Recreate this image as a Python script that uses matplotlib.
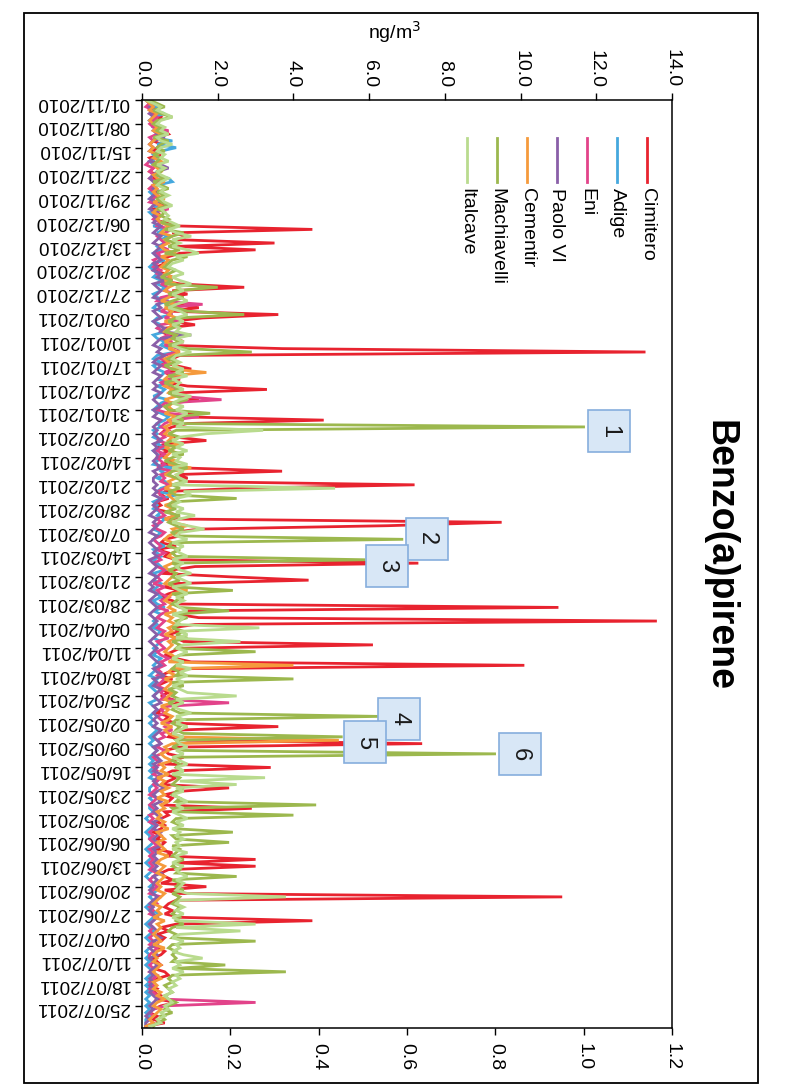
import matplotlib
matplotlib.use("Agg")
import matplotlib.pyplot as plt
from matplotlib.patches import Rectangle
import numpy as np

# ---------------------------------------------------------------------------
# Daily Benzo(a)pirene concentrations (ng/m3), 01/11/2010 -> 31/07/2011
# one row per week (7 days)
# ---------------------------------------------------------------------------
cimitero = [
    0.1, 0.3, 0.4, 0.2, 0.3, 0.5, 0.4,
    0.3, 0.5, 0.6, 0.7, 0.4, 0.3, 0.5,
    0.4, 0.3, 0.5, 0.2, 0.3, 0.4, 0.3,
    0.2, 0.4, 0.3, 0.5, 0.3, 0.2, 0.4,
    0.3, 0.5, 0.4, 0.6, 0.3, 0.4, 0.5,
    0.3, 0.6, 1.0, 4.5, 0.8, 1.2, 0.9,
    3.5, 0.9, 3.0, 1.0, 0.7, 0.5, 0.6,
    0.4, 0.3, 0.6, 0.8, 0.5, 1.0, 2.7,
    0.8, 1.2, 0.6, 0.5, 0.9, 1.5, 0.7,
    3.6, 1.6, 0.8, 1.4, 0.6, 0.5, 0.7,
    0.9, 1.1, 0.6, 3.7, 13.3, 1.0, 0.8,
    0.5, 0.9, 1.3, 0.6, 0.8, 1.0, 0.7,
    1.2, 3.3, 0.9, 1.0, 1.5, 0.8, 0.6,
    0.7, 1.4, 0.9, 4.8, 1.2, 0.8, 0.6,
    0.5, 0.9, 1.7, 0.6, 0.4, 0.7, 0.5,
    0.6, 0.8, 0.5, 1.0, 3.7, 0.9, 1.2,
    1.0, 7.2, 2.6, 0.6, 0.5, 0.7, 0.4,
    0.5, 0.3, 0.7, 0.9, 0.6, 9.5, 6.5,
    1.5, 0.8, 1.0, 0.6, 0.5, 0.9, 0.4,
    0.7, 0.6, 0.9, 7.3, 1.4, 0.8, 0.5,
    2.3, 4.4, 0.8, 0.6, 1.0, 0.7, 0.5,
    0.8, 1.0, 11.0, 1.2, 0.9, 1.5, 13.6,
    1.4, 0.8, 1.0, 0.7, 0.9, 1.1, 6.1,
    1.0, 0.8, 0.6, 0.9, 1.3, 10.1, 1.1,
    0.7, 0.5, 0.8, 0.6, 0.4, 0.5, 0.7,
    0.5, 0.8, 1.0, 0.6, 0.5, 0.4, 0.7,
    0.6, 0.9, 3.6, 1.0, 0.8, 0.7, 1.2,
    7.4, 1.0, 0.6, 0.7, 1.1, 0.8, 0.6,
    3.4, 0.8, 0.6, 0.9, 0.7, 0.5, 2.3,
    1.0, 0.6, 0.8, 0.7, 0.5, 2.9, 0.6,
    0.7, 0.5, 0.4, 0.6, 0.5, 0.3, 0.5,
    0.4, 0.6, 0.5, 0.4, 0.8, 0.6, 3.0,
    0.9, 3.0, 0.7, 0.5, 0.6, 0.8, 0.5,
    1.7, 0.6, 1.0, 11.1, 0.9, 0.7, 0.6,
    0.8, 0.6, 1.0, 4.5, 0.9, 0.5, 0.7,
    0.4, 0.6, 0.5, 0.3, 0.4, 0.6, 0.5,
    0.3, 0.4, 0.5, 0.3, 0.6, 0.7, 0.4,
    0.3, 0.2, 0.4, 0.3, 0.5, 0.4, 0.9,
    0.5, 0.3, 0.2, 0.4, 0.3, 0.6, 0.1,
]

adige = [
    0.1, 0.2, 0.4, 0.3, 0.6, 0.3, 0.2,
    0.4, 0.3, 0.5, 0.6, 0.3, 0.8, 0.4,
    0.9, 0.5, 0.3, 0.4, 0.2, 0.3, 0.5,
    0.4, 0.3, 0.7, 0.8, 0.4, 0.3, 0.2,
    0.3, 0.2, 0.4, 0.3, 0.5, 0.2, 0.3,
    0.4, 0.5, 0.3, 0.6, 0.4, 0.7, 0.5,
    0.6, 0.4, 0.5, 0.3, 0.4, 0.6, 0.3,
    0.2, 0.3, 0.4, 0.3, 0.5, 0.4, 0.6,
    0.5, 0.3, 0.4, 0.7, 0.4, 0.3, 0.5,
    0.8, 0.4, 0.3, 0.5, 0.4, 0.6, 0.3,
    0.4, 0.6, 0.5, 0.7, 0.9, 0.4, 0.3,
    0.5, 0.3, 0.4, 0.6, 0.5, 0.4, 0.7,
    0.4, 0.6, 0.5, 0.3, 0.7, 0.5, 0.4,
    0.3, 0.5, 0.7, 0.6, 0.4, 0.5, 0.3,
    0.4, 0.3, 0.5, 0.4, 0.6, 0.3, 0.4,
    0.5, 0.4, 0.3, 0.8, 0.5, 0.6, 0.4,
    0.6, 0.8, 0.5, 0.4, 0.9, 0.5, 0.3,
    0.4, 0.3, 0.5, 0.4, 0.6, 0.5, 0.4,
    0.3, 0.5, 0.4, 0.3, 0.4, 0.6, 0.3,
    0.4, 0.5, 0.3, 0.4, 0.5, 0.6, 0.3,
    0.4, 0.3, 0.5, 0.4, 0.3, 0.4, 0.5,
    0.3, 0.4, 0.6, 0.3, 0.5, 0.4, 0.3,
    0.4, 0.3, 0.5, 0.4, 0.3, 0.5, 0.4,
    0.3, 0.4, 0.3, 0.5, 0.4, 0.3, 0.4,
    0.3, 0.2, 0.4, 0.3, 0.2, 0.3, 0.4,
    0.3, 0.4, 0.2, 0.3, 0.4, 0.3, 0.2,
    0.3, 0.2, 0.3, 0.4, 0.3, 0.2, 0.3,
    0.2, 0.3, 0.4, 0.3, 0.2, 0.3, 0.2,
    0.3, 0.2, 0.3, 0.2, 0.4, 0.3, 0.2,
    0.2, 0.3, 0.2, 0.3, 0.2, 0.2, 0.3,
    0.2, 0.1, 0.2, 0.3, 0.2, 0.1, 0.2,
    0.2, 0.3, 0.2, 0.1, 0.2, 0.3, 0.2,
    0.1, 0.2, 0.3, 0.2, 0.1, 0.2, 0.3,
    0.2, 0.4, 0.3, 0.2, 0.3, 0.2, 0.1,
    0.2, 0.5, 0.3, 0.2, 0.1, 0.2, 0.3,
    0.2, 0.1, 0.2, 0.3, 0.2, 0.1, 0.2,
    0.1, 0.2, 0.1, 0.2, 0.3, 0.2, 0.1,
    0.2, 0.1, 0.2, 0.1, 0.2, 0.1, 0.2,
    0.1, 0.2, 0.1, 0.2, 0.1, 0.1, 0.1,
]

eni = [
    0.1, 0.2, 0.1, 0.3, 0.2, 0.4, 0.3,
    0.2, 0.3, 0.7, 0.4, 0.2, 0.3, 0.2,
    0.3, 0.2, 0.4, 0.3, 0.2, 0.1, 0.3,
    0.2, 0.3, 0.2, 0.4, 0.3, 0.2, 0.3,
    0.4, 0.3, 0.2, 0.5, 0.7, 0.3, 0.4,
    0.3, 0.5, 0.4, 0.8, 0.6, 0.4, 0.5,
    0.6, 0.5, 0.7, 0.4, 0.5, 0.3, 0.4,
    0.3, 0.5, 0.4, 0.6, 0.8, 0.5, 0.7,
    0.6, 0.9, 0.5, 0.4, 1.6, 0.7, 0.5,
    0.8, 0.6, 1.0, 0.5, 0.4, 0.6, 0.7,
    0.5, 0.8, 0.6, 1.0, 0.9, 0.6, 0.5,
    0.7, 0.5, 0.8, 0.6, 1.1, 0.7, 0.5,
    0.6, 0.9, 0.7, 1.0, 2.1, 0.6, 0.5,
    0.4, 0.7, 1.5, 0.8, 0.6, 0.5, 0.7,
    0.5, 0.6, 0.4, 0.7, 0.5, 0.4, 0.6,
    0.4, 0.5, 0.6, 0.4, 0.8, 0.5, 0.6,
    0.5, 0.7, 0.6, 0.4, 0.5, 0.6, 0.4,
    0.3, 0.4, 0.5, 0.6, 0.4, 0.5, 0.3,
    0.4, 0.6, 0.5, 0.3, 0.4, 0.5, 0.4,
    0.6, 0.4, 0.5, 0.3, 0.4, 0.6, 0.5,
    0.4, 0.5, 0.3, 0.6, 0.4, 0.5, 0.7,
    0.5, 0.6, 0.4, 0.7, 0.5, 0.4, 0.6,
    0.5, 0.4, 0.6, 0.5, 0.7, 0.4, 0.5,
    0.6, 0.4, 0.5, 0.7, 0.5, 0.6, 0.4,
    0.5, 0.4, 0.6, 0.5, 0.4, 0.6, 0.5,
    0.6, 0.5, 2.3, 0.7, 0.5, 0.6, 0.4,
    0.5, 0.7, 0.6, 0.8, 0.5, 0.6, 0.4,
    0.5, 0.4, 0.6, 0.5, 0.3, 0.4, 0.5,
    0.3, 0.4, 0.3, 0.5, 0.4, 0.3, 0.4,
    0.3, 0.2, 0.4, 0.3, 0.2, 0.3, 0.4,
    0.2, 0.3, 0.2, 0.4, 0.3, 0.2, 0.3,
    0.2, 0.3, 0.4, 0.2, 0.3, 0.2, 0.3,
    0.2, 0.3, 0.2, 0.4, 0.3, 0.2, 0.3,
    0.4, 0.3, 0.2, 0.5, 0.3, 0.4, 0.2,
    0.3, 0.2, 0.4, 0.3, 0.2, 0.3, 0.2,
    0.3, 0.2, 0.3, 0.2, 0.4, 0.3, 0.2,
    0.2, 0.3, 0.2, 0.3, 0.2, 0.4, 0.3,
    0.2, 0.3, 0.2, 0.3, 0.4, 0.5, 3.0,
    0.6, 0.3, 0.2, 0.3, 0.2, 0.3, 0.1,
]

paolo_vi = [
    0.1, 0.3, 0.2, 0.4, 0.2, 0.3, 0.2,
    0.3, 0.5, 0.3, 0.4, 0.6, 0.3, 0.2,
    0.3, 0.2, 0.4, 0.3, 0.2, 0.5, 0.7,
    0.4, 0.3, 0.2, 0.3, 0.4, 0.3, 0.5,
    0.3, 0.2, 0.4, 0.3, 0.2, 0.4, 0.3,
    0.4, 0.3, 0.5, 0.4, 0.3, 0.5, 0.4,
    0.3, 0.5, 0.4, 0.3, 0.4, 0.5, 0.3,
    0.4, 0.3, 0.5, 0.4, 0.6, 0.3, 0.4,
    0.5, 0.4, 0.3, 0.6, 0.4, 0.5, 0.3,
    0.4, 0.5, 0.3, 0.4, 0.6, 0.5, 1.3,
    0.5, 0.4, 0.3, 0.5, 0.4, 0.6, 0.4,
    0.3, 0.5, 0.4, 0.3, 0.5, 0.4, 0.3,
    0.4, 0.3, 0.5, 0.4, 0.3, 0.4, 0.5,
    0.3, 0.4, 0.3, 0.5, 0.4, 0.3, 0.4,
    0.3, 0.4, 0.5, 0.3, 0.4, 0.3, 0.4,
    0.4, 0.3, 0.4, 0.5, 0.3, 0.4, 0.3,
    0.3, 0.4, 0.3, 0.4, 0.3, 0.5, 0.4,
    0.3, 0.4, 0.3, 0.2, 0.4, 0.3, 0.4,
    0.3, 0.2, 0.4, 0.3, 0.2, 0.3, 0.4,
    0.3, 0.4, 0.2, 0.3, 0.4, 0.3, 0.2,
    0.4, 0.3, 0.2, 0.3, 0.2, 0.4, 0.3,
    0.2, 0.3, 0.4, 0.3, 0.2, 0.3, 0.4,
    0.3, 0.2, 0.3, 0.4, 0.3, 0.2, 0.3,
    0.4, 0.3, 0.2, 0.3, 0.4, 0.5, 0.3,
    0.4, 0.6, 0.3, 0.4, 0.3, 0.5, 0.4,
    0.3, 0.4, 0.5, 0.3, 0.4, 0.3, 0.4,
    0.3, 0.4, 0.3, 0.5, 0.4, 0.3, 0.4,
    0.5, 0.3, 0.4, 0.3, 0.4, 0.5, 0.3,
    0.4, 0.3, 0.5, 0.4, 0.3, 0.4, 0.6,
    0.4, 0.3, 0.4, 0.5, 0.3, 0.4, 0.3,
    0.4, 0.5, 0.3, 0.4, 0.3, 0.5, 0.4,
    0.3, 0.4, 0.5, 0.3, 0.4, 0.3, 0.4,
    0.3, 0.4, 0.3, 0.5, 0.3, 0.4, 0.3,
    0.3, 0.2, 0.3, 0.4, 0.3, 0.2, 0.3,
    0.2, 0.3, 0.4, 0.3, 0.2, 0.3, 0.4,
    0.3, 0.5, 0.3, 0.4, 0.2, 0.3, 0.4,
    0.2, 0.3, 0.4, 0.3, 0.2, 0.3, 0.2,
    0.3, 0.2, 0.3, 0.2, 0.3, 0.4, 0.3,
    0.2, 0.3, 0.2, 0.1, 0.2, 0.1, 0.1,
]

cementir = [
    0.1, 0.2, 0.3, 0.2, 0.4, 0.3, 0.2,
    0.3, 0.4, 0.3, 0.5, 0.4, 0.3, 0.2,
    0.3, 0.2, 0.4, 0.3, 0.5, 0.3, 0.4,
    0.5, 0.3, 0.4, 0.6, 0.3, 0.4, 0.3,
    0.4, 0.6, 0.3, 0.5, 0.4, 0.3, 0.5,
    0.4, 0.5, 0.7, 0.6, 0.5, 0.8, 0.6,
    0.7, 0.5, 0.6, 0.9, 0.5, 0.7, 0.6,
    0.5, 0.7, 0.6, 0.8, 0.6, 0.9, 0.7,
    0.6, 0.8, 0.7, 0.5, 0.9, 0.6, 0.8,
    0.7, 0.9, 0.6, 0.8, 0.7, 0.6, 0.9,
    0.8, 0.6, 0.9, 0.7, 1.0, 0.8, 0.6,
    0.7, 0.9, 0.8, 1.7, 0.7, 0.6, 0.8,
    0.6, 0.8, 0.7, 0.9, 0.6, 0.8, 0.7,
    0.8, 0.6, 0.9, 0.7, 0.8, 0.6, 0.7,
    0.6, 0.8, 0.7, 1.0, 0.6, 0.8, 0.7,
    0.6, 0.9, 0.7, 1.3, 0.8, 0.6, 0.9,
    0.7, 0.8, 0.6, 0.9, 0.7, 0.8, 0.9,
    0.6, 0.8, 0.7, 0.9, 0.6, 0.8, 1.2,
    0.8, 0.9, 0.7, 0.6, 0.8, 0.7, 1.0,
    0.8, 0.7, 0.9, 0.8, 0.6, 0.7, 0.9,
    0.8, 0.7, 0.6, 0.9, 1.2, 0.8, 0.7,
    0.6, 0.8, 0.7, 0.9, 0.6, 0.8, 0.7,
    0.9, 0.7, 0.8, 0.6, 0.9, 0.7, 0.8,
    0.7, 0.6, 0.8, 0.9, 0.7, 4.0, 0.8,
    0.7, 0.9, 0.6, 0.8, 0.7, 0.6, 0.8,
    0.7, 0.6, 0.8, 0.5, 0.7, 0.6, 0.8,
    0.7, 0.5, 0.8, 0.6, 0.7, 0.9, 5.2,
    0.8, 0.6, 0.7, 0.5, 0.6, 0.8, 0.5,
    0.6, 0.5, 0.7, 0.4, 0.6, 0.5, 0.7,
    0.5, 0.6, 0.4, 0.7, 0.5, 0.6, 0.4,
    0.5, 0.4, 0.6, 0.5, 0.7, 0.4, 0.5,
    0.6, 0.4, 0.5, 0.6, 0.4, 0.7, 0.5,
    0.4, 0.6, 0.5, 0.4, 0.6, 0.5, 0.4,
    0.5, 0.4, 0.6, 0.5, 0.4, 0.3, 0.5,
    0.4, 0.5, 0.3, 0.6, 0.4, 0.5, 0.4,
    0.3, 0.4, 0.5, 0.3, 0.6, 0.4, 0.3,
    0.4, 0.3, 0.5, 0.4, 0.3, 0.4, 0.5,
    0.3, 0.4, 0.3, 0.5, 0.4, 0.6, 0.4,
    0.3, 0.5, 0.4, 0.3, 0.2, 0.3, 0.1,
]

machiavelli = [
    0.2, 0.4, 0.6, 0.3, 0.5, 0.8, 0.4,
    0.3, 0.5, 0.4, 0.6, 0.3, 0.7, 0.5,
    0.4, 0.6, 0.3, 0.5, 0.4, 0.3, 0.6,
    0.5, 0.4, 0.6, 0.3, 0.5, 0.7, 0.4,
    0.6, 0.4, 0.5, 0.7, 0.4, 0.6, 0.5,
    0.7, 0.5, 0.9, 0.6, 1.1, 0.8, 0.6,
    0.9, 0.7, 1.0, 0.6, 1.2, 0.8, 0.7,
    0.6, 0.9, 0.7, 0.5, 0.8, 0.6, 2.0,
    0.9, 0.7, 1.1, 0.8, 0.6, 0.9, 1.2,
    2.7, 0.9, 0.7, 1.0, 0.8, 0.6, 0.9,
    0.8, 1.0, 0.7, 1.2, 2.9, 0.9, 0.7,
    0.9, 0.6, 0.8, 1.1, 0.7, 0.9, 0.6,
    0.8, 1.0, 0.7, 0.9, 1.2, 0.8, 0.6,
    0.7, 1.8, 0.9, 1.1, 0.8, 11.7, 0.9,
    0.7, 1.0, 0.8, 0.6, 0.9, 0.7, 1.1,
    0.8, 0.6, 0.9, 1.2, 0.8, 0.7, 0.9,
    1.1, 0.8, 1.0, 0.7, 0.9, 2.5, 0.8,
    0.7, 0.9, 0.6, 1.0, 0.8, 0.7, 0.9,
    1.1, 0.8, 0.9, 6.9, 0.8, 0.7, 1.0,
    0.8, 0.9, 5.9, 0.8, 1.0, 0.7, 0.9,
    0.8, 1.0, 0.7, 0.9, 2.4, 0.8, 1.1,
    0.9, 0.8, 1.0, 2.3, 0.8, 1.2, 0.9,
    1.0, 0.8, 1.1, 0.9, 1.2, 0.8, 1.0,
    0.9, 3.0, 1.0, 0.8, 1.1, 0.9, 0.8,
    1.0, 0.9, 4.0, 0.8, 1.1, 0.7, 0.9,
    0.8, 1.0, 0.7, 0.9, 0.8, 1.0, 6.25,
    0.9, 0.8, 1.0, 0.9, 1.1, 5.3, 0.9,
    1.0, 0.8, 1.1, 9.35, 0.9, 0.8, 1.0,
    0.9, 1.1, 0.8, 1.0, 0.9, 0.8, 1.1,
    0.9, 0.8, 1.0, 0.9, 4.6, 0.8, 0.9,
    4.0, 0.9, 0.8, 1.0, 0.9, 2.4, 0.8,
    0.9, 2.3, 0.8, 1.0, 0.9, 0.8, 1.1,
    0.9, 0.8, 1.0, 0.9, 2.5, 0.8, 1.0,
    0.9, 1.1, 0.8, 1.0, 0.9, 0.8, 1.0,
    0.9, 0.8, 1.0, 0.9, 1.1, 0.8, 0.7,
    0.9, 0.8, 3.0, 0.8, 0.7, 0.9, 0.8,
    0.9, 0.8, 2.2, 0.9, 3.8, 0.8, 0.7,
    0.8, 0.6, 0.7, 0.8, 0.6, 0.7, 0.9,
    0.7, 0.6, 0.8, 0.5, 0.6, 0.4, 0.3,
]

italcave = [
    0.1, 0.3, 0.5, 0.4, 0.6, 0.8, 0.5,
    0.4, 0.6, 0.5, 0.7, 0.4, 0.5, 0.8,
    0.5, 0.4, 0.6, 0.5, 0.7, 0.4, 0.6,
    0.4, 0.5, 0.7, 0.5, 0.4, 0.6, 0.5,
    0.7, 0.5, 0.6, 0.8, 0.5, 0.6, 0.7,
    0.6, 0.8, 1.0, 0.7, 0.9, 1.3, 0.8,
    1.0, 0.8, 1.2, 1.5, 0.9, 1.1, 0.8,
    0.7, 0.9, 1.1, 0.8, 1.0, 1.3, 0.9,
    1.1, 0.8, 1.0, 1.2, 0.9, 0.7, 1.0,
    1.2, 0.9, 1.1, 0.8, 1.0, 0.9, 1.3,
    0.9, 1.1, 0.8, 1.0, 1.3, 0.9, 0.8,
    1.0, 0.8, 1.1, 0.9, 1.2, 0.8, 1.0,
    0.9, 1.1, 0.8, 1.3, 1.0, 0.8, 1.1,
    0.9, 1.2, 1.0, 0.8, 1.1, 0.9, 3.2,
    1.7, 1.0, 0.8, 1.1, 0.9, 1.2, 0.8,
    1.0, 0.9, 1.2, 0.8, 1.1, 0.9, 1.0,
    1.2, 0.8, 5.1, 1.1, 1.3, 0.9, 1.0,
    0.8, 1.1, 0.9, 1.4, 1.0, 0.8, 1.2,
    1.65, 1.0, 0.9, 1.2, 0.8, 1.1, 0.9,
    1.0, 1.2, 0.8, 1.1, 0.9, 1.0, 1.3,
    0.9, 1.1, 1.3, 0.8, 1.0, 1.2, 0.9,
    1.1, 0.9, 1.0, 1.2, 0.8, 1.1, 1.0,
    0.9, 3.1, 1.0, 1.2, 0.9, 2.6, 1.1,
    0.9, 1.2, 1.0, 0.8, 1.1, 0.9, 1.3,
    1.0, 1.2, 0.9, 1.1, 0.8, 1.0, 1.2,
    2.5, 0.9, 1.1, 0.8, 1.0, 1.3, 0.9,
    1.1, 0.9, 1.2, 1.0, 0.8, 1.1, 0.9,
    1.0, 1.2, 0.9, 1.1, 0.8, 1.0, 1.2,
    0.9, 1.1, 0.8, 3.25, 1.0, 2.5, 0.9,
    1.1, 0.8, 1.0, 1.2, 0.9, 1.1, 0.8,
    1.0, 1.2, 0.9, 1.1, 0.8, 1.0, 0.9,
    1.1, 0.9, 1.0, 0.8, 1.2, 0.9, 1.0,
    0.8, 1.1, 0.9, 1.0, 1.2, 0.9, 1.1,
    1.0, 0.9, 1.2, 3.8, 1.0, 0.9, 1.1,
    0.9, 1.1, 0.8, 1.0, 3.0, 0.9, 2.6,
    1.0, 0.8, 1.1, 0.9, 1.0, 0.8, 1.1,
    1.6, 0.9, 1.0, 0.8, 1.1, 0.9, 1.0,
    0.8, 0.9, 0.7, 0.8, 0.6, 0.7, 0.8,
    0.6, 0.7, 0.5, 0.6, 0.4, 0.5, 0.2,
]

series_names = ["Cimitero", "Adige", "Eni", "Paolo VI", "Cementir",
                "Machiavelli", "Italcave"]
series_values = [cimitero, adige, eni, paolo_vi, cementir, machiavelli, italcave]
series_colors = ["#E8232F", "#45A8DE", "#E2438A", "#8A5FA8", "#F59A3C",
                 "#9CB84E", "#B9DB8E"]

# weekly date labels (every 7 days from 01/11/2010)
date_labels = [
    "01/11/2010", "08/11/2010", "15/11/2010", "22/11/2010", "29/11/2010",
    "06/12/2010", "13/12/2010", "20/12/2010", "27/12/2010", "03/01/2011",
    "10/01/2011", "17/01/2011", "24/01/2011", "31/01/2011", "07/02/2011",
    "14/02/2011", "21/02/2011", "28/02/2011", "07/03/2011", "14/03/2011",
    "21/03/2011", "28/03/2011", "04/04/2011", "11/04/2011", "18/04/2011",
    "25/04/2011", "02/05/2011", "09/05/2011", "16/05/2011", "23/05/2011",
    "30/05/2011", "06/06/2011", "13/06/2011", "20/06/2011", "27/06/2011",
    "04/07/2011", "11/07/2011", "18/07/2011", "25/07/2011",
]
primary_ticks = [0.0, 2.0, 4.0, 6.0, 8.0, 10.0, 12.0, 14.0]
secondary_ticks = [0.0, 0.2, 0.4, 0.6, 0.8, 1.0, 1.2]

# numbered callouts: (label, value at box centre, day at box centre)
callouts = [("1", 12.33, 97.3), ("2", 7.52, 128.9), ("3", 6.47, 136.7),
            ("4", 6.79, 181.7), ("5", 5.90, 188.6), ("6", 9.98, 192.1)]

# ---------------------------------------------------------------------------
W, H = 785, 1087
fig = plt.figure(figsize=(W / 100, H / 100), dpi=100)
fig.patch.set_facecolor("white")

NARROW = ["Liberation Sans Narrow", "Liberation Sans", "DejaVu Sans"]
SANS = ["Liberation Sans", "DejaVu Sans"]

# plot area in pixels (left, top, right, bottom)
px_l, px_t, px_r, px_b = 142, 100, 672, 1028
ax = fig.add_axes([px_l / W, 1 - px_b / H, (px_r - px_l) / W, (px_b - px_t) / H])
# secondary value axis (drawn along the bottom); create it first so the
# primary axis keeps its ticks on top afterwards
ax2 = ax.twiny()

days = np.arange(len(cimitero))
for name, vals, col in zip(series_names, series_values, series_colors):
    ax.plot(vals, days, color=col, lw=2.0, solid_joinstyle="miter")

ax.set_xlim(0, 14)
ax.set_ylim(272.5, 0)

# value axis drawn along the top
ax.xaxis.set_ticks_position("top")
ax.xaxis.set_label_position("top")
ax.set_xticks(primary_ticks)
ax.set_xticklabels([f"{t:.1f}" for t in primary_ticks], rotation=-90,
                   family=NARROW, fontsize=14)
ax.tick_params(axis="x", which="major", direction="out", length=5, width=1,
               pad=4, colors="black", labeltop=True, labelbottom=False,
               top=True, bottom=False)

# date axis on the left, labels upside down
ax.set_yticks(np.arange(len(date_labels)) * 7)
ax.set_yticklabels(date_labels, rotation=180, family=NARROW, fontsize=13.5)
ax.tick_params(axis="y", direction="out", length=5, width=1, pad=4)

for sp in ax.spines.values():
    sp.set_color("black")
    sp.set_linewidth(1.1)

ax2.set_xlim(0, 1.2)
ax2.xaxis.set_ticks_position("bottom")
ax2.xaxis.set_label_position("bottom")
ax2.set_xticks(secondary_ticks)
ax2.set_xticklabels([f"{t:.1f}" for t in secondary_ticks], rotation=-90,
                    family=NARROW, fontsize=14)
ax2.tick_params(axis="x", direction="out", length=5, width=1, pad=6,
                labelbottom=True, labeltop=False, bottom=True, top=False)
for sp in ax2.spines.values():
    sp.set_visible(False)

fig.text(395 / W, 1 - 32 / H, "ng/m$^3$", family=NARROW, fontsize=14,
         ha="center", va="center")

# numbered callout boxes
bw, bh = 42 / 37.86, 42 / 3.406
for lab, v, d in callouts:
    ax.add_patch(Rectangle((v - bw / 2, d - bh / 2), bw, bh, facecolor="#D8E7F6",
                           edgecolor="#86AEDD", lw=1.2, zorder=5))
    ax.text(v, d, lab, rotation=-90, ha="center", va="center", fontsize=17,
            family=SANS, color="#1A1A1A", zorder=6)

# legend: vertical sample lines with text running downward
leg_x0, leg_dx = 647, -30
for i, (name, col) in enumerate(zip(series_names, series_colors)):
    xf = (leg_x0 + i * leg_dx) / W
    fig.add_artist(plt.Line2D([xf, xf], [1 - 138 / H, 1 - 182 / H], color=col,
                              lw=2.0))
    fig.text(xf, 1 - 188 / H, name, rotation=-90, rotation_mode="anchor",
             ha="left", va="center", fontsize=14, family=SANS)

# title
fig.text(719 / W, 1 - 555 / H, "Benzo(a)pirene", rotation=-90, ha="center",
         va="center", fontsize=27, family=SANS, fontweight="bold")

# outer chart border
fig.add_artist(Rectangle((24 / W, 1 - 1083 / H), (758 - 24) / W, (1083 - 13) / H,
                         transform=fig.transFigure, fill=False, ec="black", lw=1.3))

fig.savefig("out.png", dpi=100, facecolor="white")
